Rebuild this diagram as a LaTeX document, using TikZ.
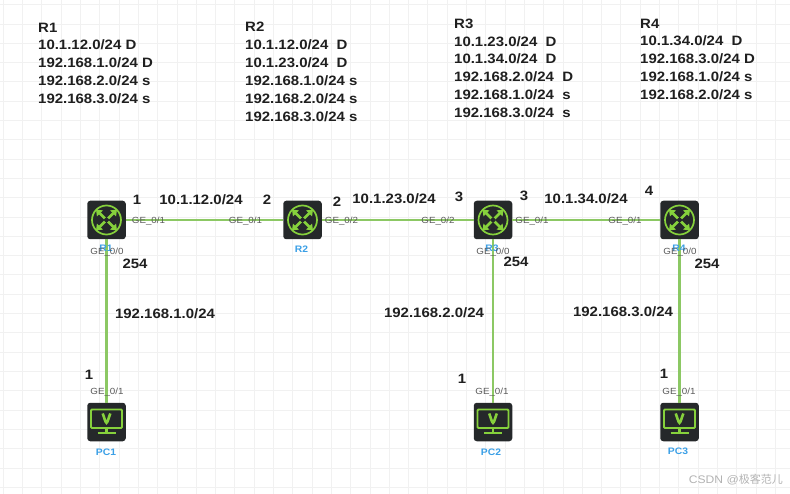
\documentclass[tikz,border=0pt]{standalone}
\usepackage{fontspec}
\usepackage{xcolor}
\usepackage{tikz}
\usetikzlibrary{positioning, arrows.meta, arrows}
\setmainfont[FakeStretch=1.1]{Liberation Sans}
\newfontfamily\cjkfont{Noto Sans CJK SC}
\definecolor{linkgreen}{HTML}{8CC864}
\definecolor{iconblack}{HTML}{25282A}
\definecolor{icongreen}{HTML}{86D13C}
\definecolor{namblue}{HTML}{3A9FE6}
\definecolor{gridgrey}{HTML}{F1F1F1}
\tikzset{
  device/.style={rectangle,rounded corners=3pt,fill=iconblack,draw=none,minimum size=38.5pt,inner sep=0pt},
  routerbox/.style={device,path picture={
    \begin{scope}[shift={(path picture bounding box.center)},icongreen,line width=1.7pt]
      \draw (0,0) circle (14.5pt);
      \draw[line width=2.8pt,-{Triangle[length=5.5pt,width=8pt]}] (1.5,1.5) -- (10.5,10.5);
      \draw[line width=2.8pt,-{Triangle[length=5.5pt,width=8pt]}] (-1.5,-1.5) -- (-10.5,-10.5);
      \draw[line width=2.8pt,-{Triangle[length=5.5pt,width=8pt]}] (1.5,-1.5) -- (10.5,-10.5);
      \draw[line width=2.8pt,-{Triangle[length=5.5pt,width=8pt]}] (-1.5,1.5) -- (-10.5,10.5);
      \fill[iconblack] (0,0) circle (2.2pt);
    \end{scope}}},
  pcbox/.style={device,path picture={
    \begin{scope}[shift={(path picture bounding box.center)},icongreen,line width=1.8pt]
      \draw[rounded corners=1pt] (-15.5,-12.5) rectangle (15.5,6);
      \draw[line width=2.6pt] (-3.8,-8.5) -- (0,2.5) -- (3.8,-8.5);
      \draw[line width=2.6pt] (0,6) -- (0,10);
      \draw[line width=2pt] (-9,11) -- (9,11);
    \end{scope}}},
  link/.style={draw=linkgreen,line width=2.6pt},
  table/.style={align=left,anchor=north west,inner sep=0pt,font=\bfseries\fontsize{13.6}{17.9}\selectfont,text=black!88},
  net/.style={inner sep=0pt,font=\bfseries\fontsize{13.6}{15}\selectfont,text=black!88},
  port/.style={inner sep=0pt,font=\fontsize{8.9}{10}\selectfont,text=black!65},
  devname/.style={inner sep=0pt,font=\bfseries\fontsize{9.4}{10}\selectfont,text=namblue},
}
\begin{document}
\begin{tikzpicture}[x=1pt,y=-1pt,>=stealth',node distance=196pt]
    \useasboundingbox (0,0) rectangle (790,494);
    % grid
    \foreach \col in {0,...,41} \draw[gridgrey,line width=1pt] (3.3+19.3*\col,0) -- (3.3+19.3*\col,494);
    \foreach \row in {0,...,25} \draw[gridgrey,line width=1pt] (0,4.8+19.3*\row) -- (790,4.8+19.3*\row);

    % routing tables
    \node[table] (t1) at (38,22.5) {R1\\10.1.12.0/24 D\\192.168.1.0/24 D\\192.168.2.0/24 s\\192.168.3.0/24 s};
    \node[table] (t2) at (245,22) {R2\\10.1.12.0/24~ D\\10.1.23.0/24~ D\\192.168.1.0/24 s\\192.168.2.0/24 s\\192.168.3.0/24 s};
    \node[table] (t3) at (454,18.5) {R3\\10.1.23.0/24~ D\\10.1.34.0/24~ D\\192.168.2.0/24~ D\\192.168.1.0/24~ s\\192.168.3.0/24~ s};
    \node[table] (t4) at (640,18.5) {R4\\10.1.34.0/24~ D\\192.168.3.0/24 D\\192.168.1.0/24 s\\192.168.2.0/24 s};

    % devices
    \node[routerbox] (R1) at (106.5,220) {};
    \node[routerbox] (R2) [right of=R1] {};
    \node[routerbox] (R3) [right of=R2,node distance=190.5pt] {};
    \node[routerbox] (R4) [right of=R3,node distance=186.5pt] {};
    \node[pcbox] (PC1) [below of=R1,node distance=202pt] {};
    \node[pcbox] (PC2) [below of=R3,node distance=202pt] {};
    \node[pcbox] (PC3) [below of=R4,node distance=202pt] {};

    \path[link] (R1) -- (R2) (R2) -- (R3) (R3) -- (R4);
    \path[link] (R1) -- (PC1) (R3) -- (PC2) (R4) -- (PC3);

    \node[devname] (n1) at (106,248) {R1};
    \node[devname] (n2) at (301.5,249) {R2};
    \node[devname] (n3) at (492,248) {R3};
    \node[devname] (n4) at (679,248) {R4};
    \node[devname] (n5) at (106,452) {PC1};
    \node[devname] (n6) at (491,452) {PC2};
    \node[devname] (n7) at (678,451) {PC3};

    % ports
    \node[port] (p1) at (148.5,221) {GE\_0/1};
    \node[port] (p2) at (245.5,221) {GE\_0/1};
    \node[port] (p3) at (341.5,221) {GE\_0/2};
    \node[port] (p4) at (438,221) {GE\_0/2};
    \node[port] (p5) at (532,221) {GE\_0/1};
    \node[port] (p6) at (625,221) {GE\_0/1};
    \node[port] (p7) at (107,252) {GE\_0/0};
    \node[port] (p8) at (493,252) {GE\_0/0};
    \node[port] (p9) at (680,252) {GE\_0/0};
    \node[port] (p10) at (107,392) {GE\_0/1};
    \node[port] (p11) at (492,392) {GE\_0/1};
    \node[port] (p12) at (679,392) {GE\_0/1};

    % addresses
    \node[net] (a1) at (201,200) {10.1.12.0/24};
    \node[net] (a2) at (394,199) {10.1.23.0/24};
    \node[net] (a3) at (586,199) {10.1.34.0/24};
    \node[net] (a4) at (165,314) {192.168.1.0/24};
    \node[net] (a5) at (434,313) {192.168.2.0/24};
    \node[net] (a6) at (623,312) {192.168.3.0/24};
    \node[net] (i1) at (137,200) {1};
    \node[net] (i2) at (267,200) {2};
    \node[net] (i3) at (337,202) {2};
    \node[net] (i4) at (459,197) {3};
    \node[net] (i5) at (524,196) {3};
    \node[net] (i6) at (649,191) {4};
    \node[net] (i7) at (135,264) {254};
    \node[net] (i8) at (516,262) {254};
    \node[net] (i9) at (707,264) {254};
    \node[net] (i10) at (89,375) {1};
    \node[net] (i11) at (462,379) {1};
    \node[net] (i12) at (664,374) {1};

    \node[anchor=east,inner sep=0pt,text=black!30,font=\fontsize{11}{12}\selectfont] (mark) at (783,480) {CSDN @{\cjkfont 极客范儿}};
\end{tikzpicture}
\end{document}
